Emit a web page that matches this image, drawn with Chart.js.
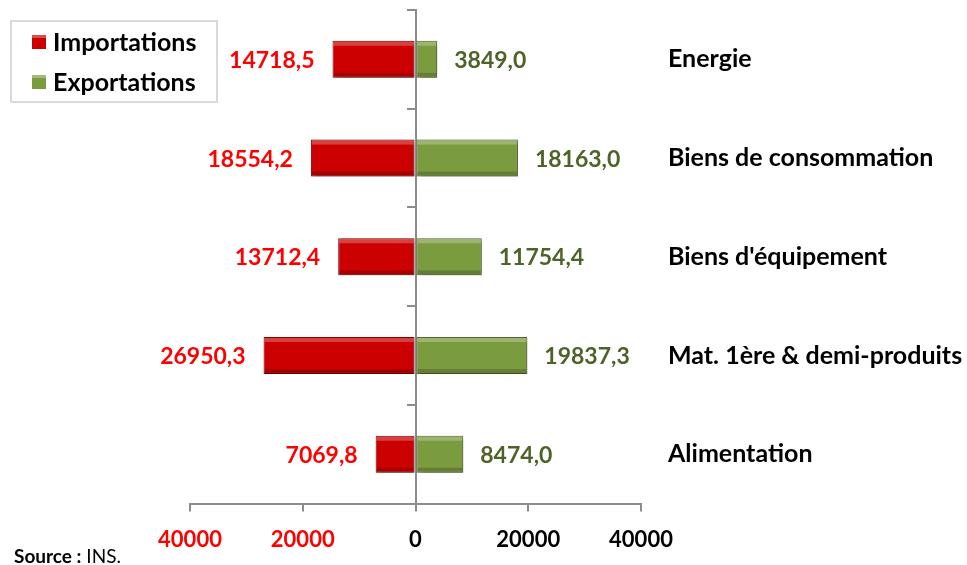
<!DOCTYPE html>
<html>
<head>
<meta charset="utf-8">
<script src="https://cdn.jsdelivr.net/npm/chart.js@4.4.0/dist/chart.umd.min.js"></script>
<style>
    html, body { margin: 0; padding: 0; background: #fff; }
    #wrap { position: relative; width: 967px; height: 565px; }
</style>
</head>
<body>
<div id="wrap"><canvas id="myChart"></canvas></div>
<script>
'use strict';

const categories = ['Energie', 'Biens de consommation', "Biens d'équipement", 'Mat. 1ère & demi-produits', 'Alimentation'];
const importations = [14718.5, 18554.2, 13712.4, 26950.3, 7069.8];
const exportations = [3849.0, 18163.0, 11754.4, 19837.3, 8474.0];
const seriesNames = ['Importations', 'Exportations'];
const xMin = -40000;
const xMax = 40000;
const xStep = 20000;

(function () {
    const FONT = 'Lato, "Open Sans", sans-serif';
    const AXIS = '#8c8c8c';
    const RED = '#cc0000';
    const GREEN = '#7b9b3f';

    function fmt(v) {
        return Math.abs(v).toFixed(1).replace('.', ',');
    }

    // labels, legende, source
    const decor = {
        id: 'decor',
        beforeDatasetsDraw(chart) {
            chart.ctx.save();
            chart.ctx.shadowColor = 'rgba(0,0,0,0.35)';
            chart.ctx.shadowOffsetX = 2;
            chart.ctx.shadowOffsetY = 2;
            chart.ctx.shadowBlur = 4;
        },
        afterDatasetsDraw(chart) {
            const ctx = chart.ctx;
            ctx.restore();
            // petit relief sur les barres
            chart.data.datasets.forEach((ds, di) => {
                chart.getDatasetMeta(di).data.forEach(bar => {
                    const left = Math.min(bar.x, bar.base);
                    const w = Math.abs(bar.x - bar.base);
                    const top = bar.y - bar.height / 2;
                    ctx.fillStyle = 'rgba(255,255,255,0.25)';
                    ctx.fillRect(left + 1, top + 1, w - 2, 4);
                    ctx.fillStyle = 'rgba(0,0,0,0.18)';
                    ctx.fillRect(left + 1, top + bar.height - 5, w - 2, 4);
                });
            });

            // valeurs
            ctx.font = 'bold 23px ' + FONT;
            ctx.textBaseline = 'middle';
            chart.getDatasetMeta(0).data.forEach((bar, i) => {
                ctx.fillStyle = '#ff0000';
                ctx.textAlign = 'right';
                ctx.fillText(fmt(importations[i]), bar.x - 18, bar.y + 1);
            });
            chart.getDatasetMeta(1).data.forEach((bar, i) => {
                ctx.fillStyle = '#4f6228';
                ctx.textAlign = 'left';
                ctx.fillText(fmt(exportations[i]), bar.x + 17, bar.y + 1);
            });

            // categories a droite
            const yScale = chart.scales.y;
            ctx.font = 'bold 25px ' + FONT;
            ctx.fillStyle = '#000';
            ctx.textAlign = 'left';
            categories.forEach((c, i) => {
                ctx.fillText(c, 668, yScale.getPixelForValue(i));
            });
        },
        afterDraw(chart) {
            const ctx = chart.ctx;
            ctx.save();
            // legende
            ctx.strokeStyle = '#d9d9d9';
            ctx.lineWidth = 2;
            ctx.strokeRect(11, 21, 206, 81);
            const cols = [RED, GREEN];
            seriesNames.forEach((name, i) => {
                const cy = 42 + i * 40;
                ctx.fillStyle = cols[i];
                ctx.fillRect(32, cy - 7, 14, 14);
                ctx.fillStyle = 'rgba(255,255,255,0.3)';
                ctx.fillRect(32, cy - 7, 14, 3);
                ctx.fillStyle = '#000';
                ctx.font = 'bold 25px ' + FONT;
                ctx.textAlign = 'left';
                ctx.textBaseline = 'middle';
                ctx.fillText(name, 53, cy + 1);
            });
            // source
            ctx.textBaseline = 'alphabetic';
            ctx.font = 'bold 19px ' + FONT;
            ctx.fillText('Source :', 14, 563);
            const w = ctx.measureText('Source :').width;
            ctx.font = '19px ' + FONT;
            ctx.fillText(' INS.', 14 + w, 563);
            ctx.restore();
        }
    };

    const config = {
        type: 'bar',
        data: {
            labels: categories,
            datasets: [
                {
                    label: seriesNames[0],
                    data: importations.map(v => -v),
                    backgroundColor: RED,
                    borderColor: '#8e0000',
                    borderWidth: 1,
                    borderSkipped: false
                },
                {
                    label: seriesNames[1],
                    data: exportations,
                    backgroundColor: GREEN,
                    borderColor: '#556d2a',
                    borderWidth: 1,
                    borderSkipped: false
                }
            ]
        },
        options: {
            indexAxis: 'y',
            responsive: true,
            maintainAspectRatio: false,
            animation: false,
            barPercentage: 0.375,
            categoryPercentage: 1,
            layout: {
                padding: { top: 10, left: 190, right: 326, bottom: -3 }
            },
            plugins: {
                legend: { display: false },
                tooltip: { enabled: false }
            },
            scales: {
                x: {
                    stacked: true,
                    min: xMin,
                    max: xMax,
                    ticks: {
                        stepSize: xStep,
                        padding: 15,
                        font: { family: FONT, size: 22, weight: 'bold' },
                        color: c => (c.tick.value < 0 ? '#ff0000' : '#000'),
                        callback: v => String(Math.abs(v))
                    },
                    grid: {
                        drawOnChartArea: false,
                        tickLength: 8,
                        color: AXIS,
                        lineWidth: 2
                    },
                    border: { color: AXIS, width: 2 }
                },
                y: {
                    stacked: true,
                    position: { x: 0 },
                    ticks: { display: false },
                    grid: {
                        offset: true,
                        drawOnChartArea: false,
                        tickLength: 8,
                        color: AXIS,
                        lineWidth: 2
                    },
                    border: { color: AXIS, width: 2 }
                }
            }
        },
        plugins: [decor]
    };

    const myChart = new Chart(document.getElementById('myChart'), config);
})();
</script>
</body>
</html>
